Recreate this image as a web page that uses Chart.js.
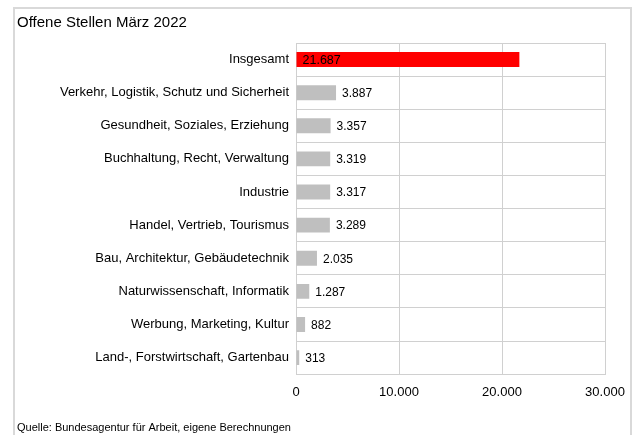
<!DOCTYPE html>
<html lang="de">
<head>
<meta charset="utf-8">
<title>Offene Stellen März 2022</title>
<script src="https://cdn.jsdelivr.net/npm/chart.js@4/dist/chart.umd.min.js"></script>
<style>
  html, body { margin: 0; padding: 0; background: #fff; }
  #wrap { position: relative; width: 632px; height: 435px; overflow: hidden; }
  #frame {
    position: absolute; left: 13px; top: 7px; width: 615px; height: 440px;
    border: 2px solid #d9d9d9; border-bottom: none;
  }
  #myChart { position: absolute; left: 0; top: 0; }
</style>
</head>
<body>
<div id="wrap">
  <div id="frame"></div>
  <canvas id="myChart" width="632" height="435"></canvas>
</div>
<script>
const categories = [
    "Insgesamt",
    "Verkehr, Logistik, Schutz und Sicherheit",
    "Gesundheit, Soziales, Erziehung",
    "Buchhaltung, Recht, Verwaltung",
    "Industrie",
    "Handel, Vertrieb, Tourismus",
    "Bau, Architektur, Gebäudetechnik",
    "Naturwissenschaft, Informatik",
    "Werbung, Marketing, Kultur",
    "Land-, Forstwirtschaft, Gartenbau",
];

const stellen = [21687, 3887, 3357, 3319, 3317, 3289, 2035, 1287, 882, 313];

const xTicks = [0, 10000, 20000, 30000];

const FONT = "'Liberation Sans', Arial, sans-serif";

// 21687 -> "21.687"
function fmt(n) {
    return String(Math.round(n)).replace(/\B(?=(\d{3})+(?!\d))/g, ".");
}

const barColors = categories.map((c) => (c === "Insgesamt" ? "#ff0000" : "#bfbfbf"));

const valueLabels = {
    id: "valueLabels",
    afterDatasetsDraw(chart) {
        const ctx = chart.ctx;
        const meta = chart.getDatasetMeta(0);
        ctx.save();
        ctx.fillStyle = "#000";
        ctx.textBaseline = "middle";
        ctx.textAlign = "left";
        meta.data.forEach((bar, i) => {
            const txt = fmt(stellen[i]);
            if (categories[i] === "Insgesamt") {
                // total sits inside its own bar
                ctx.font = "12.5px " + FONT;
                ctx.fillText(txt, bar.base + 6, bar.y + 1);
            } else {
                ctx.font = "12px " + FONT;
                ctx.fillText(txt, bar.x + 6, bar.y + 1);
            }
        });
        ctx.restore();
    },
};

const config = {
    type: "bar",
    data: {
        labels: categories,
        datasets: [
            {
                data: stellen,
                backgroundColor: barColors,
                borderWidth: 0,
                barPercentage: 0.9,
                categoryPercentage: 0.5,
            },
        ],
    },
    options: {
        indexAxis: "y",
        responsive: false,
        animation: false,
        layout: {
            padding: { left: 17, right: 27, top: 0, bottom: 0 },
        },
        scales: {
            x: {
                min: 0,
                max: 30000,
                afterBuildTicks: (scale) => {
                    scale.ticks = xTicks.map((v) => ({ value: v }));
                },
                afterFit: (scale) => {
                    // keep the plot edge fixed; "30.000" may hang into the margin
                    scale.paddingRight = 0;
                    scale.paddingLeft = 0;
                },
                grid: { color: "#d0d0d0", drawTicks: false },
                border: { color: "#d0d0d0" },
                ticks: {
                    padding: 10,
                    color: "#000",
                    font: { family: FONT, size: 13 },
                    callback: (v) => fmt(v),
                },
            },
            y: {
                afterFit: (scale) => {
                    scale.width = 279;
                },
                grid: { color: "#d0d0d0", drawTicks: false, offset: true },
                border: { color: "#d0d0d0" },
                ticks: {
                    padding: 7,
                    color: "#000",
                    font: { family: FONT, size: 13 },
                },
            },
        },
        plugins: {
            legend: { display: false },
            tooltip: { enabled: false },
            title: {
                display: true,
                text: "Offene Stellen März 2022",
                align: "start",
                color: "#000",
                font: { family: FONT, size: 15, weight: "normal" },
                padding: { top: 14, bottom: 11 },
            },
            subtitle: {
                display: true,
                position: "bottom",
                text: "Quelle: Bundesagentur für Arbeit, eigene Berechnungen",
                align: "start",
                color: "#000",
                font: { family: FONT, size: 11 },
                padding: { top: 12, bottom: 0 },
            },
        },
    },
    plugins: [valueLabels],
};

new Chart(document.getElementById("myChart"), config);
</script>
</body>
</html>
